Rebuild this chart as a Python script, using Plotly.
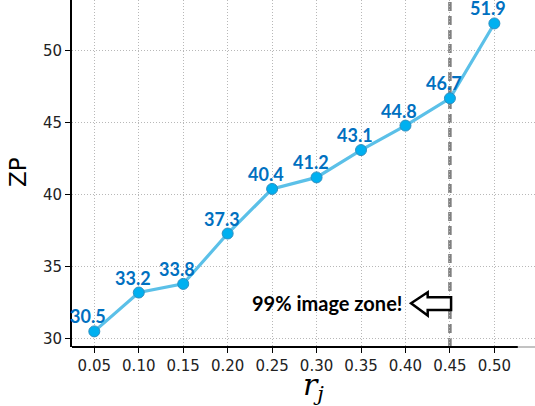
import plotly.graph_objects as go

# ZP vs r_j
r_values = [0.05, 0.10, 0.15, 0.20, 0.25, 0.30, 0.35, 0.40, 0.45, 0.50]
zp_values = [30.5, 33.2, 33.8, 37.3, 40.4, 41.2, 43.1, 44.8, 46.7, 51.9]
x_tick_labels = ["0.05", "0.10", "0.15", "0.20", "0.25", "0.30", "0.35", "0.40", "0.45", "0.50"]
y_ticks = [30, 35, 40, 45, 50]
zone_r = 0.45

LINE_COLOR = "#5bc0e8"
MARKER_COLOR = "#00b0f0"
LABEL_COLOR = "#0070c0"

fig = go.Figure()
fig.add_trace(go.Scatter(
    x=r_values, y=zp_values, mode="lines+markers",
    line=dict(color=LINE_COLOR, width=3.2),
    marker=dict(size=11, color=MARKER_COLOR, line=dict(color="#2f8fc0", width=1)),
    hoverinfo="skip", showlegend=False,
))

# value labels above each point
for xv, yv in zip(r_values, zp_values):
    fig.add_annotation(
        x=xv, y=yv, text=f"<b>{yv:.1f}</b>", showarrow=False,
        xshift=-6, yshift=15,
        font=dict(family="Lato, sans-serif", size=18, color=LABEL_COLOR),
    )

# dashed boundary of the image zone
fig.add_shape(type="line", xref="x", yref="paper", x0=zone_r, x1=zone_r, y0=0, y1=1,
              line=dict(color="#808080", width=3.5, dash="9px,5px"), layer="between")

# hollow left-pointing block arrow
arrow_path = ("M 0.4063 32.45 L 0.4250 33.22 L 0.4250 32.88 L 0.4513 32.88 "
              "L 0.4513 31.98 L 0.4250 31.98 L 0.4250 31.60 Z")
fig.add_shape(type="path", xref="x", yref="y", path=arrow_path,
              line=dict(color="black", width=2.5), fillcolor="white", layer="above")
fig.add_annotation(x=0.312, y=32.46, xref="x", yref="y",
                   text="<b>99% image zone!</b>", showarrow=False,
                   font=dict(family="Lato, sans-serif", size=20, color="black"))

# bottom spine
fig.add_shape(type="line", xref="paper", yref="paper", x0=0, x1=0.963, y0=0, y1=0,
              line=dict(color="black", width=1.8), layer="above")
fig.add_shape(type="line", xref="paper", yref="paper", x0=0.963, x1=1.0, y0=0, y1=0,
              line=dict(color="#999999", width=1.2), layer="above")

# axis titles
fig.add_annotation(x=-(72 - 18) / 463, y=1 - 172 / 347, xref="paper", yref="paper", text="ZP",
                   textangle=-90, showarrow=False, xanchor="center", yanchor="middle",
                   font=dict(family="DejaVu Sans", size=23, color="black"))
fig.add_annotation(x=(313 - 72) / 463, y=-(386 - 347) / 347, xref="paper", yref="paper",
                   xanchor="center", yanchor="middle",
                   text="<i>r</i><sub><i>j</i></sub>", showarrow=False,
                   font=dict(family="DejaVu Serif", size=30, color="black"))

grid = dict(showgrid=True, gridcolor="#b8b8b8", gridwidth=1, griddash="1px,2px")
fig.update_xaxes(
    range=[0.0249, 0.5457], tickvals=r_values, ticktext=x_tick_labels,
    ticks="outside", ticklen=5, tickwidth=1.2, tickcolor="black",
    tickfont=dict(family="DejaVu Sans", size=15, color="#222222"),
    showline=False, zeroline=False, **grid,
)
fig.update_yaxes(
    range=[29.415, 53.53], tickvals=y_ticks,
    ticks="outside", ticklen=5, tickwidth=1.2, tickcolor="black",
    tickfont=dict(family="DejaVu Sans", size=15, color="#222222"),
    showline=True, linecolor="black", linewidth=1.8, mirror=False,
    zeroline=False, **grid,
)
fig.update_layout(
    width=535, height=406,
    margin=dict(l=72, r=0, t=0, b=59),
    plot_bgcolor="white", paper_bgcolor="white",
)
fig.write_html("out.html")
